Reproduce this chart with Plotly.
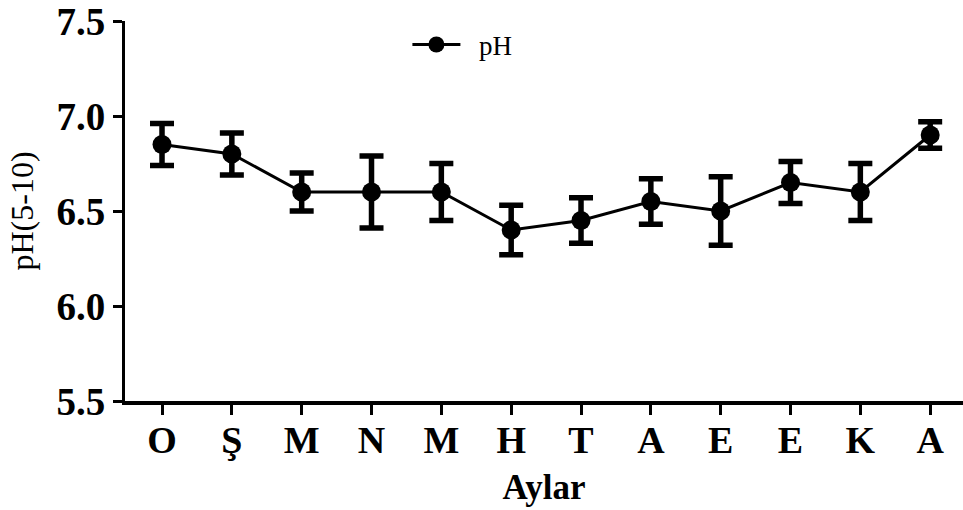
import plotly.graph_objects as go

months = ["O", "Ş", "M", "N", "M", "H", "T", "A", "E", "E", "K", "A"]
ph_mean = [6.85, 6.80, 6.60, 6.60, 6.60, 6.40, 6.45, 6.55, 6.50, 6.65, 6.60, 6.90]
ph_err = [0.11, 0.11, 0.10, 0.19, 0.15, 0.13, 0.12, 0.12, 0.18, 0.11, 0.15, 0.07]
y_ticks = [5.5, 6.0, 6.5, 7.0, 7.5]

x_idx = list(range(len(months)))
serif = "Liberation Serif"

fig = go.Figure()
fig.add_trace(go.Scatter(
    x=x_idx, y=ph_mean, name="\u00a0\u00a0pH", mode="lines+markers",
    line=dict(color="black", width=3),
    marker=dict(color="black", size=19, symbol="circle"),
    error_y=dict(type="data", array=ph_err, visible=True,
                 color="black", thickness=5.5, width=12),
))

fig.update_layout(
    width=963, height=510,
    margin=dict(l=125, r=0, t=19, b=109),
    paper_bgcolor="white", plot_bgcolor="white",
    font=dict(family=serif, color="black"),
    showlegend=True,
    legend=dict(x=0.337, y=0.937, xanchor="left", yanchor="middle",
                bgcolor="rgba(0,0,0,0)", font=dict(size=27, family=serif),
                itemwidth=48),
    xaxis=dict(
        range=[-0.53, 11.47], tickmode="array", tickvals=x_idx, ticktext=months,
        showline=True, linecolor="black", linewidth=4, mirror=False,
        ticks="outside", ticklen=10, tickwidth=3, tickcolor="black",
        showgrid=False, zeroline=False, ticklabelstandoff=-8,
        tickfont=dict(size=38, family=serif, weight="bold"),
        title=dict(text="<b>Aylar</b>", font=dict(size=35, family=serif), standoff=16),
    ),
    yaxis=dict(
        range=[5.5, 7.5], tickmode="array", tickvals=y_ticks,
        ticktext=[f"<b>{v:.1f}</b>" for v in y_ticks],
        showline=True, linecolor="black", linewidth=3,
        ticks="outside", ticklen=9, tickwidth=3, tickcolor="black",
        showgrid=False, zeroline=False, ticklabeloverflow="allow",
        tickfont=dict(size=39, family=serif),
        title=dict(text="pH(5-10)", font=dict(size=32, family=serif), standoff=14),
    ),
)

fig.write_html("out.html")
